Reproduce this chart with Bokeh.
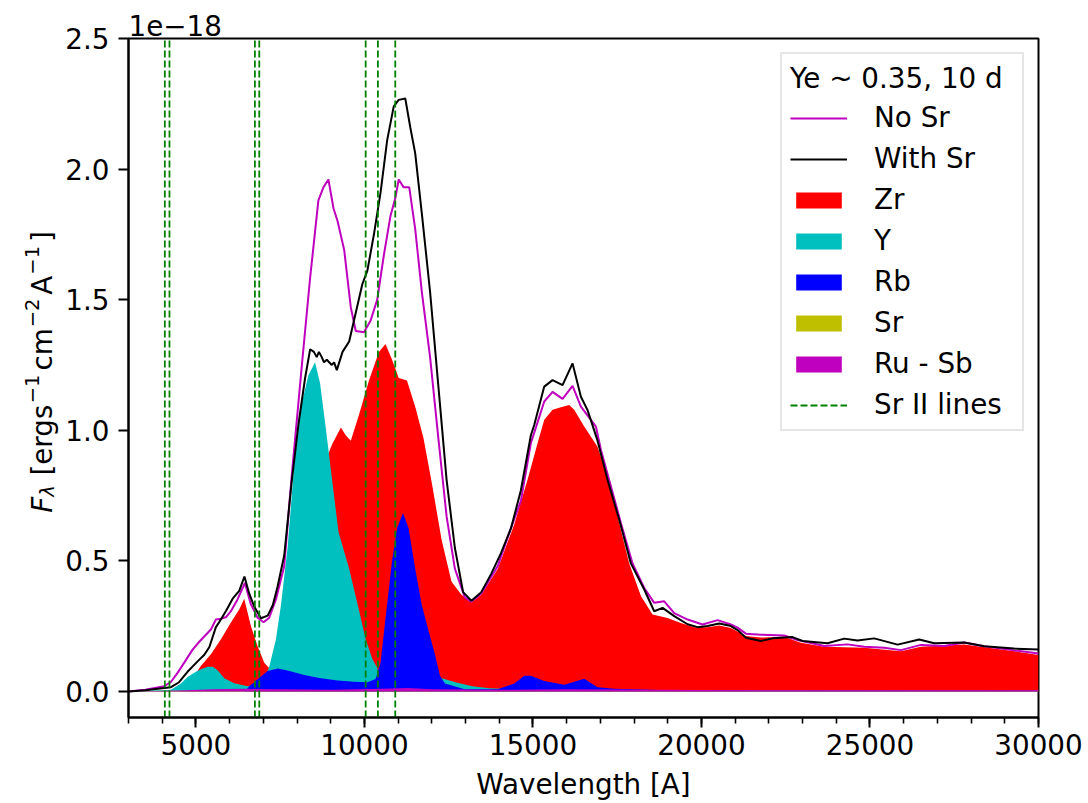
import numpy as np
from bokeh.plotting import figure
from bokeh.layouts import row
from bokeh.models import (Label, Legend, LegendItem, SingleIntervalTicker,
                          FixedTicker, PrintfTickFormatter, Title, Range1d)
from bokeh.embed import file_html
from bokeh.resources import INLINE

# ---------------- data (flux in 1e-18) ----------------
wl_with = [3000, 3500, 4000, 4260, 4500, 4750, 5050, 5250, 5400, 5590, 5740, 5900,
           6090, 6285, 6440, 6580, 6730, 6930, 7130, 7280, 7420, 7620, 7840, 8040,
           8240, 8390, 8500, 8585, 8650, 8734, 8800, 8883, 9032, 9100, 9181, 9350,
           9547, 9743, 9939, 10086, 10282, 10478, 10674, 10870, 11017, 11213, 11360,
           11507, 11703, 11948, 12193, 12438, 12683, 12928, 13173, 13467, 13761,
           14055, 14349, 14643, 14937, 15038, 15335, 15582, 15879, 16175, 16423,
           16620, 16917, 17214, 17560, 17906, 18302, 18598, 18846, 19192, 19587,
           19884, 20181, 20527, 20873, 21071, 21318, 21763, 22109, 22455, 22703,
           23000, 23741, 24236, 24631, 25126, 25818, 26461, 26906, 27796, 28389,
           29280, 30000]
with_sr = [0.0, 0.004, 0.012, 0.016, 0.035, 0.075, 0.115, 0.14, 0.17, 0.245, 0.275, 0.31,
           0.355, 0.385, 0.44, 0.375, 0.325, 0.28, 0.29, 0.33, 0.40, 0.52, 0.80, 1.02,
           1.20, 1.31, 1.30, 1.28, 1.30, 1.28, 1.26, 1.27, 1.25, 1.26, 1.23, 1.30,
           1.34, 1.45, 1.56, 1.61, 1.75, 1.91, 2.11, 2.24, 2.265, 2.27, 2.16,
           2.06, 1.83, 1.53, 1.17, 0.81, 0.55, 0.38, 0.347, 0.38, 0.45,
           0.53, 0.625, 0.77, 0.98, 1.02, 1.167, 1.192, 1.173, 1.256, 1.128,
           1.077, 0.96, 0.81, 0.657, 0.49, 0.39, 0.307, 0.32, 0.288, 0.257,
           0.246, 0.25, 0.26, 0.25, 0.235, 0.205, 0.193, 0.203, 0.206, 0.208,
           0.193, 0.184, 0.202, 0.195, 0.203, 0.179, 0.199, 0.184, 0.187, 0.173,
           0.164, 0.16]

wl_nosr = [3000, 3500, 4059, 4258, 4450, 4654, 4902, 5100, 5246, 5445, 5593, 5742, 5900,
           6038, 6235, 6453, 6632, 6830, 7008, 7175, 7374, 7620, 7839, 8137, 8386,
           8634, 8783, 8932, 9082, 9204, 9400, 9596, 9743, 9988, 10184, 10380, 10576,
           10772, 10919, 11017, 11164, 11330, 11507, 11703, 11948, 12193, 12438, 12683,
           12978, 13173, 13467, 13957, 14349, 14643, 14937, 15137, 15335, 15582, 15879,
           16175, 16423, 16719, 16868, 17016, 17313, 17609, 17955, 18302, 18598, 18895,
           19192, 19587, 20033, 20478, 20873, 21071, 21318, 21763, 22455, 22851, 23642,
           24335, 24829, 25422, 25917, 26510, 27203, 27796, 28389, 29280, 30000]
no_sr = [0.0, 0.006, 0.02, 0.036, 0.07, 0.11, 0.16, 0.19, 0.21, 0.237, 0.275, 0.278, 0.285,
         0.307, 0.352, 0.415, 0.333, 0.282, 0.265, 0.282, 0.352, 0.479, 0.82, 1.24, 1.58,
         1.88, 1.93, 1.96, 1.85, 1.80, 1.69, 1.47, 1.38, 1.375, 1.42, 1.50, 1.67,
         1.82, 1.89, 1.96, 1.93, 1.93, 1.77, 1.53, 1.28, 0.97, 0.67, 0.47,
         0.36, 0.344, 0.375, 0.48, 0.625, 0.73, 0.95, 1.03, 1.11, 1.147, 1.12,
         1.17, 1.09, 1.04, 1.014, 0.925, 0.785, 0.645, 0.49, 0.396, 0.339, 0.345,
         0.30, 0.275, 0.256, 0.273, 0.256, 0.244, 0.221, 0.217, 0.214, 0.197, 0.174,
         0.18, 0.171, 0.167, 0.158, 0.178, 0.174, 0.187, 0.173, 0.157, 0.145]

wl_zr = [3000, 4500, 4750, 4900, 5147, 5445, 5742, 6038, 6285, 6433, 6632, 6830, 7028,
         7156, 7400, 7800, 8200, 8600, 8800, 8960, 9057, 9302, 9450, 9596, 9841, 10135,
         10429, 10625, 10821, 11017, 11262, 11507, 11752, 11997, 12291, 12585, 12879,
         13173, 13467, 13957, 14447, 14839, 15137, 15335, 15582, 15829, 16076, 16225,
         16521, 16917, 17214, 17510, 17857, 18203, 18549, 18994, 19390, 19785, 20181,
         20527, 20873, 21318, 21763, 22455, 22950, 23642, 24829, 25917, 26510, 27796,
         29280, 30000]
zr = [0.0, 0.0, 0.02, 0.05, 0.097, 0.142, 0.2, 0.264, 0.314, 0.355, 0.25, 0.173, 0.11,
      0.091, 0.08, 0.2, 0.45, 0.72, 0.85, 0.92, 0.95, 1.01, 0.98, 0.96, 1.06, 1.19,
      1.30, 1.33, 1.27, 1.20, 1.19, 1.09, 0.97, 0.80, 0.58, 0.42, 0.37,
      0.34, 0.37, 0.47, 0.64, 0.81, 0.95, 1.04, 1.078, 1.088, 1.097, 1.078,
      1.014, 0.937, 0.82, 0.67, 0.49, 0.365, 0.294, 0.281, 0.262, 0.246, 0.246,
      0.252, 0.243, 0.212, 0.206, 0.209, 0.186, 0.171, 0.167, 0.154, 0.171, 0.18,
      0.154, 0.139]

wl_y = [3000, 4258, 4555, 4753, 5000, 5200, 5354, 5503, 5650, 5841, 6137, 6532, 6900,
        7100, 7175, 7374, 7523, 7720, 7938, 8137, 8336, 8535, 8684, 8833, 9032, 9231,
        9547, 9841, 10037, 10233, 10380, 10430, 10600, 11500, 12100, 12300, 12700,
        13200, 13700, 14500, 20000, 30000]
y_el = [0.0, 0.006, 0.03, 0.055, 0.075, 0.088, 0.094, 0.094, 0.08, 0.05, 0.031, 0.02, 0.03,
        0.07, 0.093, 0.2, 0.33, 0.55, 0.9, 1.10, 1.21, 1.26, 1.18, 1.03, 0.82, 0.61,
        0.47, 0.31, 0.2, 0.125, 0.09, 0.06, 0.05, 0.05, 0.055, 0.05, 0.035,
        0.02, 0.012, 0.008, 0.004, 0.002]

wl_rb = [3000, 6450, 6582, 6830, 7127, 7424, 7720, 8214, 8708, 9202, 9696, 10091, 10331,
         10478, 10625, 10821, 10968, 11144, 11311, 11507, 11703, 11899, 12095, 12242,
         12389, 12978, 13957, 14447, 14741, 14939, 15335, 15928, 16521, 16917, 17412,
         18900, 30000]
rb = [0.0, 0.0, 0.02, 0.046, 0.078, 0.088, 0.08, 0.063, 0.05, 0.042, 0.037, 0.035, 0.047,
      0.11, 0.28, 0.50, 0.625, 0.683, 0.625, 0.47, 0.33, 0.234, 0.14, 0.06,
      0.03, 0.008, 0.008, 0.03, 0.06, 0.06, 0.04, 0.025, 0.048, 0.016, 0.01,
      0.004, 0.002]

wl_sr = [3000, 4077, 10000, 11000, 30000]
sr = [0.0, 0.002, 0.003, 0.004, 0.001]

wl_rusb = [3000, 4500, 5500, 6500, 7500, 9000, 10500, 11300, 12000, 14000, 16000, 20000,
           25000, 30000]
rusb = [0.0, 0.003, 0.008, 0.01, 0.008, 0.006, 0.01, 0.013, 0.008, 0.006, 0.008, 0.005,
        0.004, 0.004]

sr_ii_lines = [4077.7, 4215.5, 6750, 6880, 10036.7, 10400, 10914.9]

y_ticks = [0.0, 0.5, 1.0, 1.5, 2.0, 2.5]

# ---------------- layout ----------------
X_START, X_END = 3000, 30000
Y_START, Y_END = -0.1, 2.5
W, H = 1088, 803
LW = 62                      # width of the strip holding the y label
ML, MR, MT, MB = 128, 50, 38, 85
FONT = "DejaVu Sans"
FS = "27.8px"


def py_to_y(py):
    return Y_END - (py - MT) * (Y_END - Y_START) / (H - MT - MB)


p = figure(width=W - LW, height=H, x_range=(X_START, X_END), y_range=(Y_START, Y_END),
           output_backend="svg", toolbar_location=None, title_location=None,
           min_border_left=ML - LW, min_border_right=MR, min_border_top=MT,
           min_border_bottom=MB)
p.xgrid.visible = False
p.ygrid.visible = False
p.outline_line_color = "black"
p.outline_line_width = 2
p.background_fill_color = "white"
p.border_fill_color = "white"

# fills
r_zr = p.varea(x=wl_zr, y1=0, y2=zr, fill_color="#ff0000")
r_y = p.varea(x=wl_y, y1=0, y2=y_el, fill_color="#00bfbf")
r_rb = p.varea(x=wl_rb, y1=0, y2=rb, fill_color="#0000ff")
r_sr = p.varea(x=wl_sr, y1=0, y2=sr, fill_color="#bfbf00")
r_rusb = p.varea(x=wl_rusb, y1=0, y2=rusb, fill_color="#bf00bf")

# lines
r_nosr = p.line(wl_nosr, no_sr, line_color="#bf00bf", line_width=2)
r_with = p.line(wl_with, with_sr, line_color="black", line_width=2)

r_lines = p.multi_line(xs=[[l, l] for l in sr_ii_lines],
                       ys=[[Y_START, Y_END] for _ in sr_ii_lines],
                       line_color="#008000", line_width=1.8, line_dash="7 3")

# axes
p.xaxis.ticker = SingleIntervalTicker(interval=5000, num_minor_ticks=5)
p.xaxis.formatter = PrintfTickFormatter(format="%d")
p.yaxis.ticker = FixedTicker(ticks=y_ticks, minor_ticks=[])
p.yaxis.formatter = PrintfTickFormatter(format="%.1f")
for ax in (p.xaxis[0], p.yaxis[0]):
    ax.axis_line_color = "black"
    ax.axis_line_width = 2
    ax.major_tick_line_width = 2
    ax.minor_tick_line_width = 1.6
    ax.major_tick_out = 10
    ax.major_tick_in = 0
    ax.minor_tick_out = 6
    ax.minor_tick_in = 0
    ax.major_label_text_font = FONT
    ax.major_label_text_font_size = FS
    ax.major_label_text_color = "black"
p.xaxis.major_label_standoff = 6
p.yaxis.major_label_standoff = 9
p.yaxis.minor_tick_line_color = None
p.xaxis.axis_label = "Wavelength [A]"
p.xaxis.axis_label_text_font = FONT
p.xaxis.axis_label_text_font_size = FS
p.xaxis.axis_label_text_font_style = "normal"
p.xaxis.axis_label_text_color = "black"
p.xaxis.axis_label_standoff = 10

# offset text above the frame
p.add_layout(Title(text="1e\u221218", align="left", text_font=FONT, text_font_size=FS,
                   text_font_style="normal", text_color="black", standoff=5,
                   offset=0), "above")

# legend
legend = Legend(items=[
    LegendItem(label="No Sr", renderers=[r_nosr]),
    LegendItem(label="With Sr", renderers=[r_with]),
    LegendItem(label="Zr", renderers=[r_zr]),
    LegendItem(label="Y", renderers=[r_y]),
    LegendItem(label="Rb", renderers=[r_rb]),
    LegendItem(label="Sr", renderers=[r_sr]),
    LegendItem(label="Ru - Sb", renderers=[r_rusb]),
    LegendItem(label="Sr II lines", renderers=[r_lines]),
], title="Ye ~ 0.35, 10 d", location="top_right")
legend.title_text_font = FONT
legend.title_text_font_size = FS
legend.title_text_font_style = "normal"
legend.title_text_color = "black"
legend.label_text_font = FONT
legend.label_text_font_size = FS
legend.label_text_color = "black"
legend.glyph_width = 57
legend.glyph_height = 20
legend.label_standoff = 27
legend.label_width = 140
legend.spacing = 8
legend.padding = 8
legend.margin = 14
legend.title_standoff = 6
legend.border_line_color = "#cccccc"
legend.border_line_width = 2
legend.background_fill_alpha = 0.8
p.add_layout(legend)

# ---------------- y label strip ----------------
lab = figure(width=LW, height=H, x_range=Range1d(0, LW), y_range=Range1d(Y_START, Y_END),
             output_backend="svg", toolbar_location=None, title_location=None,
             x_axis_location=None, y_axis_location=None,
             min_border_left=0, min_border_right=0, min_border_top=MT,
             min_border_bottom=MB)
lab.outline_line_color = None
lab.xgrid.visible = False
lab.ygrid.visible = False
lab.border_fill_color = "white"
lab.background_fill_color = "white"

S = 27.8            # main size of the y label, px
SS = 0.7 * S        # sub/superscript size
BASE_X = 42         # baseline of the rotated label (page px)
# (text, size, italic, baseline shift in px (+ = subscript), advance in em, gap before)
pieces = [("F", S, True, 0, 0.575, 0),
          ("\u03bb", SS, True, 5, 0.592, 0),
          ("[ergs", S, False, 0, 2.572, 0.35 * S),
          ("\u22121", SS, False, -11, 1.474, 1),
          ("cm", S, False, 0, 1.524, 4),
          ("\u22122", SS, False, -11, 1.474, 1),
          ("A", S, False, 0, 0.684, 4),
          ("\u22121", SS, False, -11, 1.474, 1),
          ("]", S, False, 0, 0.390, 4)]
ypos = 513.0        # page pixel where the label starts (bottom)
for txt, size, ital, shift, adv, gap in pieces:
    ypos -= gap
    lab.add_layout(Label(x=BASE_X + shift, y=py_to_y(ypos), text=txt, angle=np.pi / 2,
                         text_align="left", text_baseline="alphabetic",
                         text_font=FONT, text_font_size=f"{size:.1f}px",
                         text_font_style="italic" if ital else "normal",
                         text_color="black"))
    ypos -= adv * size

layout = row(lab, p)
open("out.html", "w").write(file_html(layout, INLINE))
